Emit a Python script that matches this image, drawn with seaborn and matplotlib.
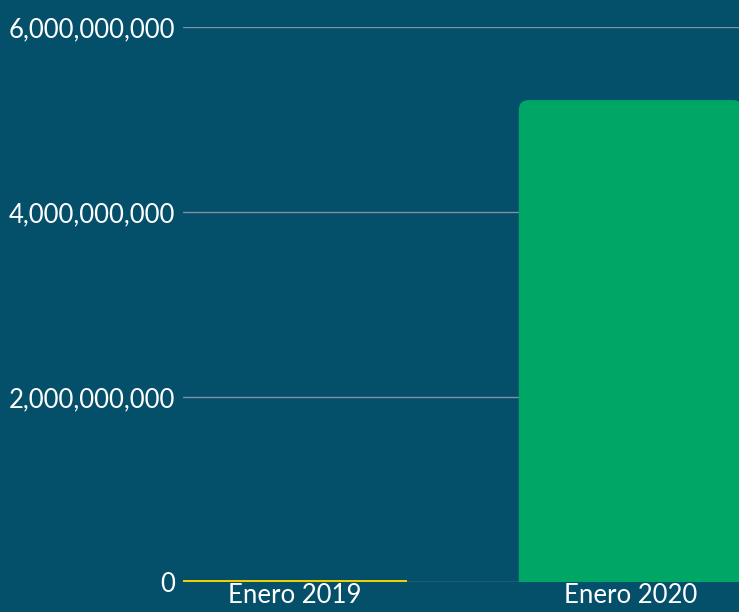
import numpy as np
import pandas as pd
import matplotlib
matplotlib.use("Agg")
import matplotlib.pyplot as plt
import seaborn as sns
from matplotlib.patches import FancyBboxPatch
from matplotlib.transforms import Affine2D
from matplotlib.ticker import FuncFormatter

# data
periods = ["Enero 2019", "Enero 2020"]
values = [18_000_000, 5_210_000_000]
bar_colors = ["#F2CF00", "#00A665"]
y_ticks = [0, 2_000_000_000, 4_000_000_000, 6_000_000_000]

BG = "#044F69"

sns.set_theme(style="dark")
plt.rcParams['font.family'] = ['Lato', 'DejaVu Sans']

df = pd.DataFrame({"periodo": periods, "valor": values})

fig = plt.figure(figsize=(7.39, 6.12), dpi=100, facecolor=BG)
ax = fig.add_axes([183 / 739, 30 / 612, 1 - 183 / 739, (582 - 27) / 612])
ax.set_facecolor(BG)

sns.barplot(data=df, x="periodo", y="valor", hue="periodo", palette=bar_colors,
            width=0.667, legend=False, ax=ax, saturation=1, linewidth=0)

ax.set_ylim(0, 6_000_000_000)
ax.set_xlim(-0.333, 1.322)

# rounded tops for tall bars: work in a y-rescaled space so corners are round
px_x = 556 / (1.322 + 0.333)       # px per x unit
px_y = 555 / 6_000_000_000          # px per y unit
k = px_x / px_y                     # y data units per x unit (same pixels)
tr = Affine2D().scale(1, k) + ax.transData
r = 10 / px_x
for p in list(ax.patches):
    h = p.get_height()
    if h * px_y < 20:
        continue
    x0, w = p.get_x(), p.get_width()
    col = p.get_facecolor()
    p.remove()
    ext = 4 * r
    fb = FancyBboxPatch((x0, -ext), w, h / k + ext,
                        boxstyle=f"round,pad=0,rounding_size={r}",
                        facecolor=col, edgecolor="none", zorder=2,
                        transform=tr)
    ax.add_patch(fb)

ax.set_yticks(y_ticks)
ax.yaxis.set_major_formatter(FuncFormatter(lambda v, _: f"{int(v):,}"))
ax.grid(axis="y", color="#7C93A3", linewidth=1)
ax.grid(axis="x", visible=False)
ax.set_axisbelow(True)
for s in ax.spines.values():
    s.set_visible(False)

ax.tick_params(axis="y", colors="white", labelsize=18.5, length=0, pad=6)
ax.tick_params(axis="x", colors="white", labelsize=18.5, length=0, pad=1)
ax.set_xlabel("")
ax.set_ylabel("")

fig.savefig("out.png", dpi=100, facecolor=BG)
